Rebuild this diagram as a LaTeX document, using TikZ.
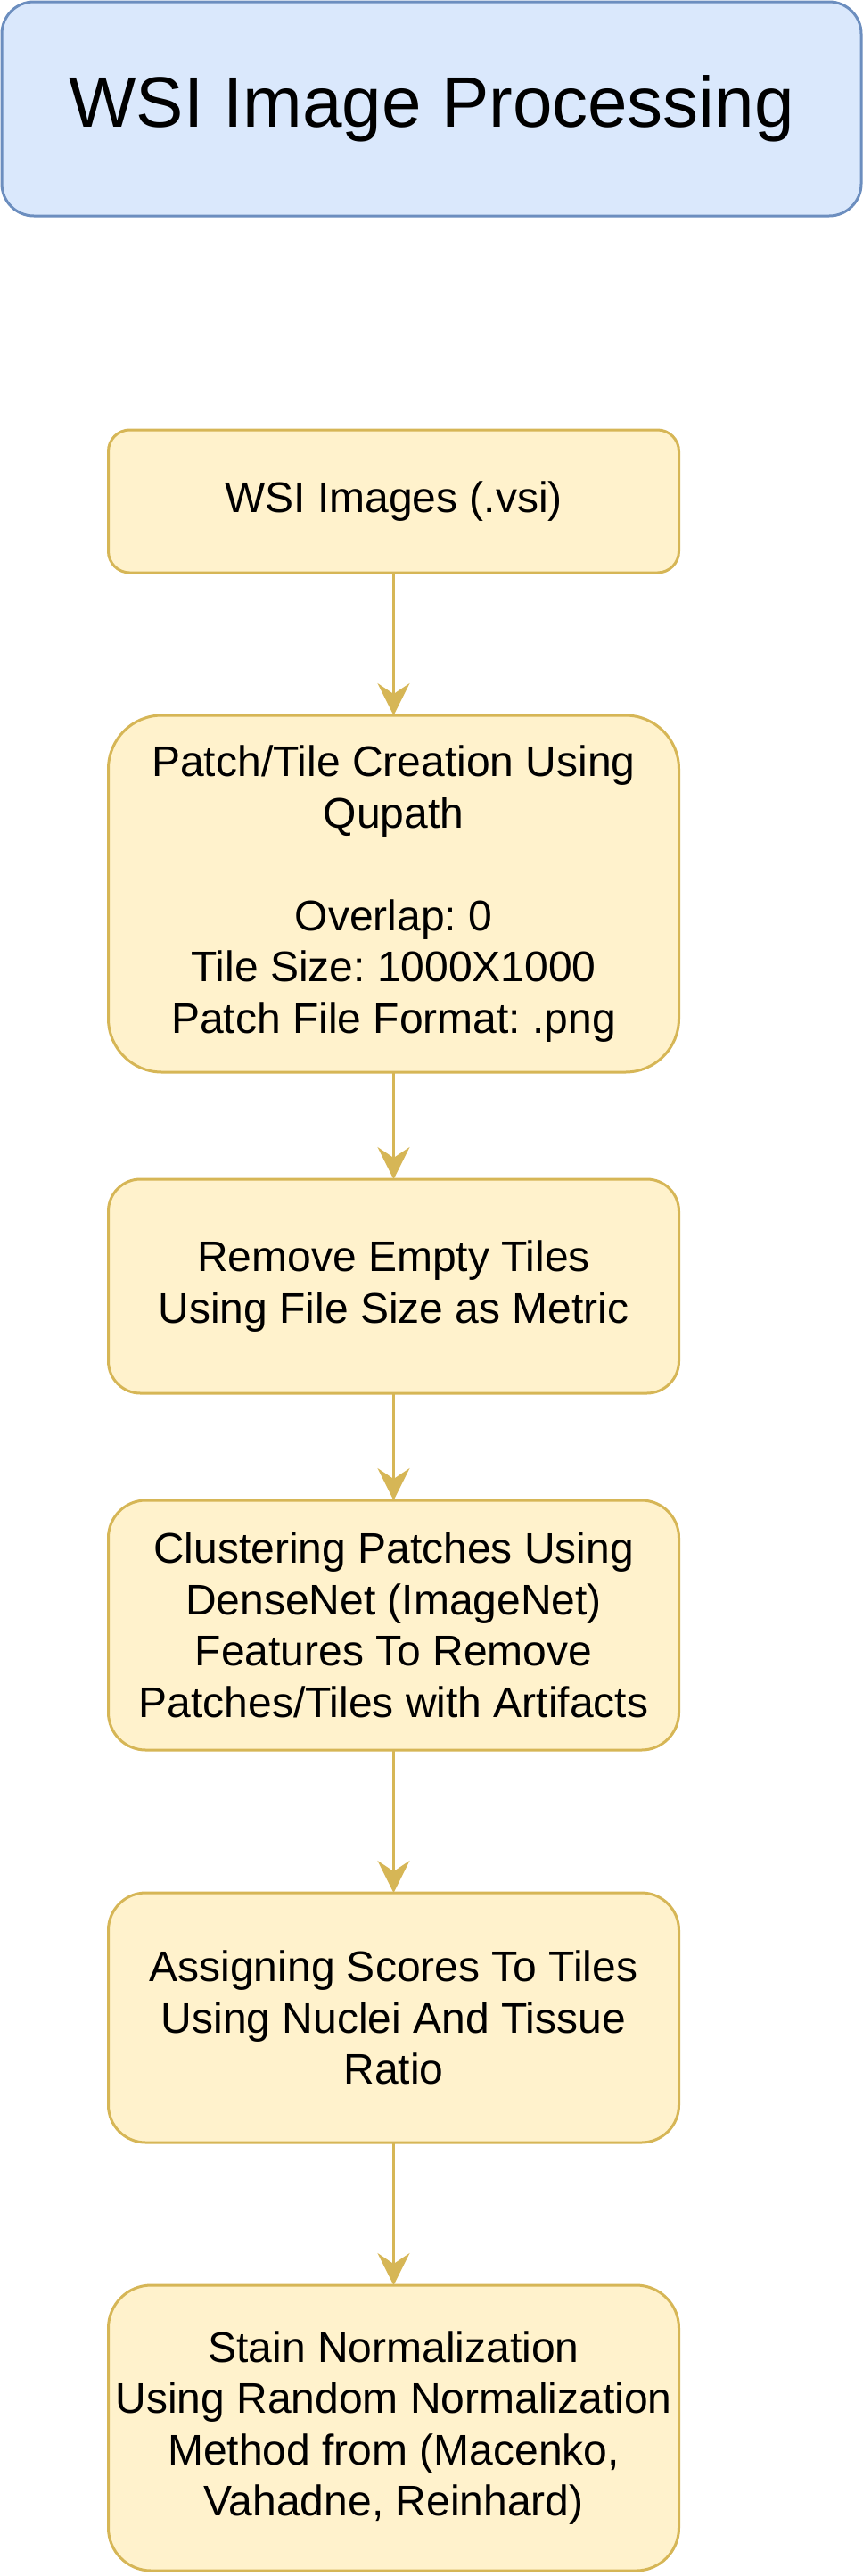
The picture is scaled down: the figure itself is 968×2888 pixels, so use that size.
\documentclass[tikz,border=0pt]{standalone}
\usepackage{fontspec}
\setmainfont{Liberation Sans}
\usepackage{tikz}
\usetikzlibrary{positioning}
\usetikzlibrary{arrows.meta}
\definecolor{boxfill}{HTML}{FFF2CC}
\definecolor{boxline}{HTML}{D6B656}
\definecolor{headfill}{HTML}{DAE8FC}
\definecolor{headline}{HTML}{6C8EBF}
\tikzstyle{arrow} = [line width=3pt,draw=boxline,-{Stealth[length=36pt,width=36pt,inset=12pt]}]
\frenchspacing

\begin{document}
\begin{tikzpicture}[x=1pt,y=1pt,
  head/.style = {draw=headline,fill=headfill,line width=3pt,rounded corners=36pt,
        minimum width=964pt,minimum height=240pt,outer sep=0pt,align=center,
        font=\fontsize{80}{96}\selectfont},
  box/.style = {draw=boxline,fill=boxfill,line width=3pt,inner xsep=4pt,
        minimum width=640pt,outer sep=0pt,align=center,
        font=\fontsize{48}{57.6}\selectfont}
]
 \useasboundingbox (0,0) rectangle (968,-2888);
 \node[head] (head) at (484,-122) {WSI Image Processing};
 \node[box,minimum height=160pt,rounded corners=24pt] (b1) at (441.5,-562) {WSI Images (.vsi)};
 \node[box,minimum height=400pt,rounded corners=60pt,below=160pt of b1] (b2)
   {Patch/Tile Creation Using\\Qupath\\[57.6pt]Overlap: 0\\Tile Size: 1000X1000\\ Patch File Format: .png};
 \node[box,minimum height=240pt,rounded corners=36pt,below=120pt of b2] (b3)
   {Remove Empty Tiles\\Using File Size as Metric};
 \node[box,minimum height=280pt,rounded corners=42pt,below=120pt of b3] (b4)
   {Clustering Patches Using\\DenseNet (ImageNet)\\Features To Remove\\Patches/Tiles with Artifacts};
 \node[box,minimum height=280pt,rounded corners=42pt,below=160pt of b4] (b5)
   {Assigning Scores To Tiles\\Using Nuclei And Tissue\\Ratio};
 \node[box,minimum height=320pt,rounded corners=48pt,below=160pt of b5] (b6)
   {Stain Normalization\\Using Random Normalization\\Method from (Macenko,\\Vahadne, Reinhard)};
 \draw[arrow] (b1) -- (b2);
 \draw[arrow] (b2) -- (b3);
 \draw[arrow] (b3) -- (b4);
 \draw[arrow] (b4) -- (b5);
 \draw[arrow] (b5) -- (b6);
\end{tikzpicture}
\end{document}
